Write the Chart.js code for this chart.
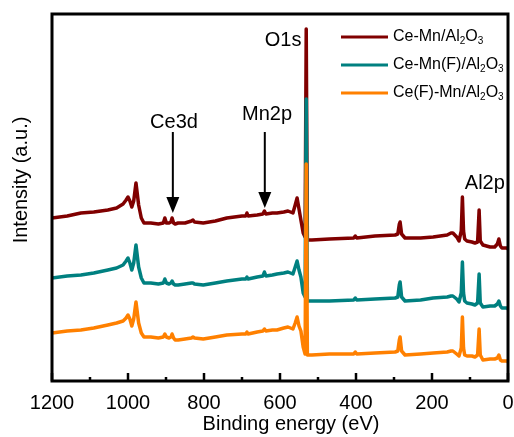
<!DOCTYPE html>
<html>
<head>
<meta charset="utf-8">
<script src="https://cdn.jsdelivr.net/npm/chart.js@4.4.0/dist/chart.umd.min.js"></script>
<style>
html, body { margin: 0; padding: 0; background: #fff; }
</style>
</head>
<body>
<canvas id="xps" width="514" height="437"></canvas>
<script>
// binding energy (eV), shared by the three spectra
var energies = [1200, 1160, 1124, 1090, 1053, 1030, 1013, 1005, 1000, 995, 990, 985, 979, 972, 965, 958, 940, 920, 907, 903, 899, 892, 887, 884, 880, 876, 868, 850, 833, 829, 825, 802, 770, 740, 700, 690, 687, 684, 660, 645, 641, 637, 620, 608, 590, 579, 566, 560, 555, 550, 545, 539, 534, 531, 528, 516, 470, 406, 402, 398, 350, 297, 290, 286, 284, 280, 271, 230, 197, 160, 150, 145, 135, 129, 123, 120, 117, 114, 108, 95, 87, 80, 76, 73, 66, 47, 35, 28, 24, 20, 16, 3, 0];

// intensity (a.u., offset traces)
var ceMn = [163, 165, 168, 169, 171, 173, 177, 181, 184, 180, 174, 180, 198, 176, 163, 158, 158, 157, 158, 163, 158, 158, 159, 163, 158, 157, 158, 158, 160, 161, 159, 158, 160, 163, 165, 165, 168, 165, 166, 167, 170, 167, 168, 168, 169, 170, 168, 176, 183, 172, 161, 148, 144, 352, 141, 141, 142, 143, 145, 143, 145, 146, 147, 157, 159, 147, 143, 143, 144, 146, 148, 148, 144, 140, 150, 184, 150, 142, 140, 139, 138, 139, 171, 140, 136, 134, 134, 137, 142, 135, 133, 133, 132];
var ceMnF = [103, 105, 106, 108, 111, 113, 116, 120, 123, 118, 111, 118, 136, 114, 103, 98, 98, 97, 98, 102, 98, 97, 98, 100, 97, 96, 96, 97, 98, 98, 97, 96, 98, 100, 102, 102, 104, 102, 104, 105, 109, 105, 106, 107, 108, 109, 107, 114, 120, 111, 104, 88, 84, 282, 80, 80, 80, 81, 83, 81, 82, 83, 84, 96, 99, 84, 80, 81, 83, 84, 85, 85, 82, 79, 88, 119, 88, 80, 78, 77, 76, 78, 107, 78, 74, 75, 75, 77, 80, 75, 73, 73, 72];
var ceFMn = [48, 50, 51, 53, 56, 58, 60, 63, 66, 62, 55, 62, 79, 58, 48, 44, 44, 43, 44, 47, 44, 43, 44, 47, 43, 41, 41, 42, 43, 44, 43, 42, 44, 46, 47, 47, 49, 47, 49, 50, 52, 50, 51, 51, 53, 54, 52, 58, 64, 55, 50, 34, 27, 217, 26, 26, 27, 27, 29, 27, 28, 29, 30, 41, 44, 30, 26, 27, 28, 29, 30, 30, 27, 25, 33, 64, 33, 26, 25, 25, 24, 26, 52, 26, 21, 22, 22, 23, 26, 21, 20, 20, 19];

var seriesNames = ['Ce-Mn/Al2O3', 'Ce-Mn(F)/Al2O3', 'Ce(F)-Mn/Al2O3'];
var seriesColors = ['#800000', '#008080', '#ff8000'];

var xTicks = [0, 200, 400, 600, 800, 1000, 1200];

var FONT = '"Liberation Sans", Arial, sans-serif';

function toPoints(vals) {
    return energies.map(function (e, i) { return { x: e, y: vals[i] }; });
}

// peak labels and arrows, in data units
var notes = {
    labels: [
        { text: 'O1s', x: 592, y: 335 },
        { text: 'Ce3d', x: 879, y: 253 },
        { text: 'Mn2p', x: 634, y: 261 },
        { text: 'Al2p', x: 61, y: 192 }
    ],
    arrows: [
        { x: 882, from: 249, to: 168 },
        { x: 640, from: 249, to: 173 }
    ]
};

// draw text with digits as subscripts
function drawSubText(ctx, str, x, y, size) {
    var parts = str.match(/[0-9]+|[^0-9]+/g);
    parts.forEach(function (p) {
        var sub = /^[0-9]+$/.test(p);
        ctx.font = (sub ? Math.round(size * 0.65) : size) + 'px ' + FONT;
        ctx.fillText(p, x, sub ? y + 4 : y);
        x += ctx.measureText(p).width;
    });
}

var decor = {
    id: 'decor',
    afterDatasetsDraw: function (chart) {
        var ctx = chart.ctx, a = chart.chartArea;
        var xs = chart.scales.x, ys = chart.scales.y;
        ctx.save();
        ctx.strokeStyle = '#000';
        ctx.fillStyle = '#000';

        // box
        ctx.lineWidth = 3;
        ctx.strokeRect(a.left, a.top, a.right - a.left, a.bottom - a.top);

        // inward ticks, minor every 100
        ctx.lineWidth = 2.5;
        for (var e = 0; e <= 1200; e += 100) {
            var px = xs.getPixelForValue(e);
            var len = (e % 200 === 0) ? 8 : 4;
            ctx.beginPath();
            ctx.moveTo(px, a.bottom);
            ctx.lineTo(px, a.bottom - len);
            ctx.stroke();
        }

        // arrows
        notes.arrows.forEach(function (ar) {
            var x = xs.getPixelForValue(ar.x);
            var y1 = ys.getPixelForValue(ar.from);
            var y2 = ys.getPixelForValue(ar.to);
            ctx.lineWidth = 2;
            ctx.beginPath();
            ctx.moveTo(x, y1);
            ctx.lineTo(x, y2 - 12);
            ctx.stroke();
            ctx.beginPath();
            ctx.moveTo(x - 6.5, y2 - 16);
            ctx.lineTo(x + 6.5, y2 - 16);
            ctx.lineTo(x, y2);
            ctx.closePath();
            ctx.fill();
        });

        // peak labels
        ctx.font = '20px ' + FONT;
        ctx.textAlign = 'center';
        ctx.textBaseline = 'alphabetic';
        notes.labels.forEach(function (lb) {
            ctx.fillText(lb.text, xs.getPixelForValue(lb.x), ys.getPixelForValue(lb.y));
        });

        // legend
        ctx.textAlign = 'left';
        ctx.textBaseline = 'middle';
        seriesNames.forEach(function (name, i) {
            var y = a.top + 23 + i * 28;
            ctx.strokeStyle = seriesColors[i];
            ctx.lineWidth = 3;
            ctx.beginPath();
            ctx.moveTo(a.left + 289, y);
            ctx.lineTo(a.left + 336, y);
            ctx.stroke();
            ctx.fillStyle = '#000';
            drawSubText(ctx, name, a.left + 341, y, 16);
        });

        // axis titles
        ctx.font = '20px ' + FONT;
        ctx.textAlign = 'center';
        ctx.textBaseline = 'alphabetic';
        ctx.fillText('Binding energy (eV)', 291, 430);
        ctx.translate(21, 180);
        ctx.rotate(-Math.PI / 2);
        ctx.textBaseline = 'middle';
        ctx.fillText('Intensity (a.u.)', 0, 0);
        ctx.restore();
    }
};

var ctx = document.getElementById('xps').getContext('2d');
var chart = new Chart(ctx, {
    type: 'line',
    data: {
        datasets: [
            { label: seriesNames[0], data: toPoints(ceMn), borderColor: seriesColors[0], order: 3 },
            { label: seriesNames[1], data: toPoints(ceMnF), borderColor: seriesColors[1], order: 2 },
            { label: seriesNames[2], data: toPoints(ceFMn), borderColor: seriesColors[2], order: 1 }
        ]
    },
    options: {
        responsive: false,
        devicePixelRatio: 1,
        animation: false,
        layout: { padding: { left: 52, right: 6, top: 14, bottom: 0 } },
        elements: {
            point: { radius: 0 },
            line: { borderWidth: 3.5, tension: 0, borderJoinStyle: 'round', borderCapStyle: 'round', fill: false }
        },
        plugins: {
            legend: { display: false },
            tooltip: { enabled: false }
        },
        scales: {
            x: {
                type: 'linear',
                reverse: true,
                min: 0,
                max: 1200,
                grid: { display: false, drawTicks: false },
                border: { display: false },
                afterBuildTicks: function (s) {
                    s.ticks = xTicks.map(function (v) { return { value: v }; });
                },
                ticks: {
                    padding: 10,
                    color: '#000',
                    maxRotation: 0,
                    autoSkip: false,
                    font: { family: FONT, size: 20 },
                    callback: function (v) { return String(v); }
                },
                afterFit: function (s) { s.height = 56; }
            },
            y: { display: false, min: 0, max: 367 }
        }
    },
    plugins: [decor]
});
</script>
</body>
</html>
